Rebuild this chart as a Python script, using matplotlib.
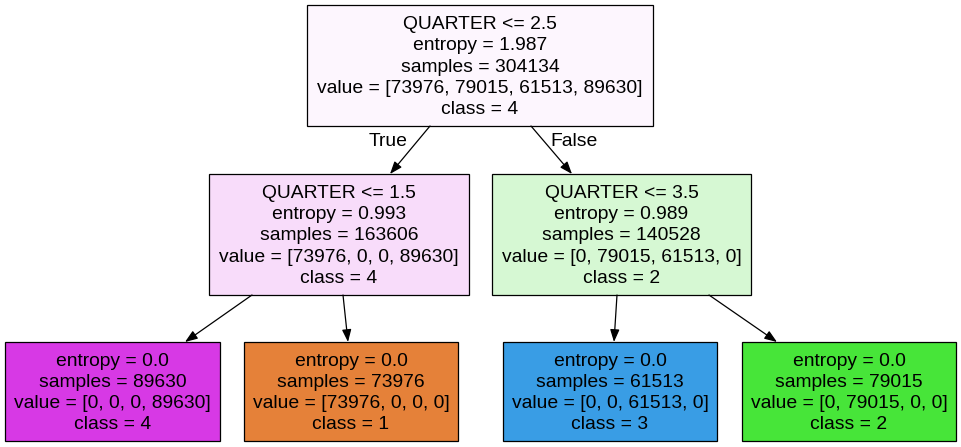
import matplotlib
matplotlib.use("Agg")
import matplotlib.pyplot as plt
from matplotlib.patches import Rectangle

plt.rcParams['font.family'] = ['Liberation Sans', 'DejaVu Sans']

# ---------------------------------------------------------------- #
# Tree data (sklearn export_graphviz style)
# ---------------------------------------------------------------- #
node_split = ['QUARTER <= 2.5', 'QUARTER <= 1.5', 'QUARTER <= 3.5', None, None, None, None]
node_entropy = ['1.987', '0.993', '0.989', '0.0', '0.0', '0.0', '0.0']
node_samples = [304134, 163606, 140528, 89630, 73976, 61513, 79015]
node_value = ['[73976, 79015, 61513, 89630]', '[73976, 0, 0, 89630]',
              '[0, 79015, 61513, 0]', '[0, 0, 0, 89630]', '[73976, 0, 0, 0]',
              '[0, 0, 61513, 0]', '[0, 79015, 0, 0]']
node_class = [4, 4, 2, 4, 1, 3, 2]
node_color = ['#fdf6fe', '#f8dcfa', '#d6f8d3', '#d739e5', '#e58139', '#399de5', '#47e539']
edges = [(0, 1), (0, 2), (1, 3), (1, 4), (2, 5), (2, 6)]
edge_labels = {(0, 1): 'True', (0, 2): 'False'}

# ---------------------------------------------------------------- #
# Layout in pixel units (x0, x1, y0, y1)
# ---------------------------------------------------------------- #
boxes = [(307, 653, 5, 126), (209, 469, 174, 295), (492, 751, 174, 295),
         (5, 220, 342, 441), (244, 458, 342, 441), (503, 717, 342, 441), (742, 956, 342, 441)]
edge_pts = {(0, 1): ((430, 126), (390, 174)), (0, 2): ((531, 126), (572, 174)),
            (1, 3): ((252, 295), (185, 342)), (1, 4): ((343, 295), (348, 342)),
            (2, 5): ((617, 295), (614, 342)), (2, 6): ((709, 295), (777, 342))}
label_pos = {(0, 1): (388, 142), (0, 2): (574, 142)}

W, H = 962, 447
fig = plt.figure(figsize=(W / 100, H / 100), dpi=100)
ax = fig.add_axes([0, 0, 1, 1])
ax.set_xlim(0, W)
ax.set_ylim(H, 0)
ax.axis('off')

fs = 13.9  # ~19 px
line_h = 21.3
dy = 1.5  # baseline nudge

for i, (x0, x1, y0, y1) in enumerate(boxes):
    ax.add_patch(Rectangle((x0, y0), x1 - x0, y1 - y0, facecolor=node_color[i],
                           edgecolor='black', lw=0.9))
    lines = []
    if node_split[i] is not None:
        lines.append(node_split[i])
    lines += ['entropy = ' + node_entropy[i], 'samples = %d' % node_samples[i],
              'value = ' + node_value[i], 'class = %d' % node_class[i]]
    cx, cy = (x0 + x1) / 2, (y0 + y1) / 2 + dy
    n = len(lines)
    for k, s in enumerate(lines):
        ax.text(cx, cy + (k - (n - 1) / 2) * line_h, s, ha='center', va='center',
                fontsize=fs, color='black')

for e in edges:
    (xa, ya), (xb, yb) = edge_pts[e]
    ax.annotate('', xy=(xb, yb), xytext=(xa, ya),
                arrowprops=dict(arrowstyle='-|>,head_length=0.75,head_width=0.28',
                                mutation_scale=10, lw=0.9, color='black',
                                shrinkA=0, shrinkB=0))
    if e in edge_labels:
        ax.text(label_pos[e][0], label_pos[e][1], edge_labels[e], ha='center',
                va='center', fontsize=fs, color='black')

plt.savefig('out.png', dpi=100)
